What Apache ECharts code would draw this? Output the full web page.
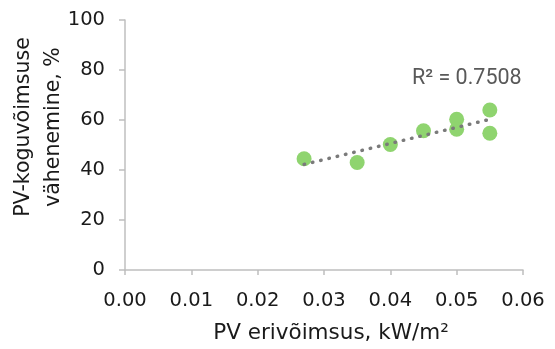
<!DOCTYPE html>
<html>
<head>
<meta charset="utf-8">
<script src="https://cdn.jsdelivr.net/npm/echarts@6/dist/echarts.min.js"></script>
<style>
  html, body { margin: 0; padding: 0; background: #fff; }
  #chart { width: 555px; height: 349px; }
</style>
</head>
<body>
<div id="chart"></div>
<script>
// PV specific power (kW/m2) vs capacity reduction (%)
const pvPower = [0.027, 0.035, 0.040, 0.045, 0.050, 0.050, 0.055, 0.055];
const reduction = [44.5, 43.0, 50.2, 55.7, 60.3, 56.3, 64.0, 54.7];
const xTicks = [0, 0.01, 0.02, 0.03, 0.04, 0.05, 0.06];
const yTicks = [0, 20, 40, 60, 80, 100];
const r2Text = 'R² = 0.7508';

// linear trendline (least squares) over the points
function linearFit(xs, ys) {
  const n = xs.length;
  const mx = xs.reduce((a, b) => a + b, 0) / n;
  const my = ys.reduce((a, b) => a + b, 0) / n;
  let sxy = 0;
  let sxx = 0;
  xs.forEach((x, i) => {
    sxy += (x - mx) * (ys[i] - my);
    sxx += (x - mx) * (x - mx);
  });
  const slope = sxy / sxx;
  return (x) => my + slope * (x - mx);
}

const fit = linearFit(pvPower, reduction);
const xMin = Math.min(...pvPower);
const xMax = Math.max(...pvPower);
const trend = [[xMin, fit(xMin)], [xMax, fit(xMax)]];

const chart = echarts.init(document.getElementById('chart'));
const font = 'DejaVu Sans, Verdana, sans-serif';

chart.setOption({
  animation: false,
  grid: { left: 125, right: 32, top: 20, bottom: 79, outerBoundsMode: 'none', containLabel: false },
  xAxis: {
    type: 'value',
    min: xTicks[0],
    max: xTicks[xTicks.length - 1],
    interval: 0.01,
    name: 'PV erivõimsus, kW/m²',
    nameLocation: 'middle',
    nameGap: 52,
    nameMoveOverlap: false,
    nameTextStyle: { fontFamily: font, fontSize: 21.5, color: '#1a1a1a', padding: [0, 0, 0, 14] },
    axisLine: { lineStyle: { color: '#bfbfbf', width: 1.5 } },
    axisTick: { show: true, length: 5, lineStyle: { color: '#bfbfbf', width: 1.5 } },
    splitLine: { show: false },
    axisLabel: {
      margin: 21,
      fontFamily: font,
      fontSize: 19.5,
      color: '#1a1a1a',
      formatter: (v) => v.toFixed(2),
    },
  },
  yAxis: {
    type: 'value',
    min: yTicks[0],
    max: yTicks[yTicks.length - 1],
    interval: 20,
    name: 'PV-koguvõimsuse\nvähenemine, %',
    nameLocation: 'middle',
    nameGap: 56,
    nameMoveOverlap: false,
    nameRotate: 90,
    nameTextStyle: {
      fontFamily: font,
      fontSize: 20.5,
      color: '#1a1a1a',
      lineHeight: 30,
      padding: [0, 0, 0, 36],
    },
    axisLine: { show: true, lineStyle: { color: '#bfbfbf', width: 1.5 } },
    axisTick: { show: true, length: 6, lineStyle: { color: '#bfbfbf', width: 1.5 } },
    splitLine: { show: false },
    axisLabel: {
      margin: 20,
      fontFamily: font,
      fontSize: 19.5,
      color: '#1a1a1a',
    },
  },
  graphic: [
    {
      type: 'text',
      left: 412,
      top: 68,
      style: {
        text: r2Text,
        font: '21.5px Roboto, sans-serif',
        fill: '#595959',
      },
    },
  ],
  series: [
    {
      type: 'scatter',
      data: pvPower.map((x, i) => [x, reduction[i]]),
      symbolSize: 15,
      itemStyle: { color: '#8fd46f', opacity: 1 },
      z: 2,
    },
    {
      type: 'line',
      data: trend,
      symbol: 'none',
      lineStyle: {
        color: '#7a7a7a',
        width: 3.5,
        type: [0.5, 8],
        cap: 'round',
      },
      z: 3,
    },
  ],
});
</script>
</body>
</html>
